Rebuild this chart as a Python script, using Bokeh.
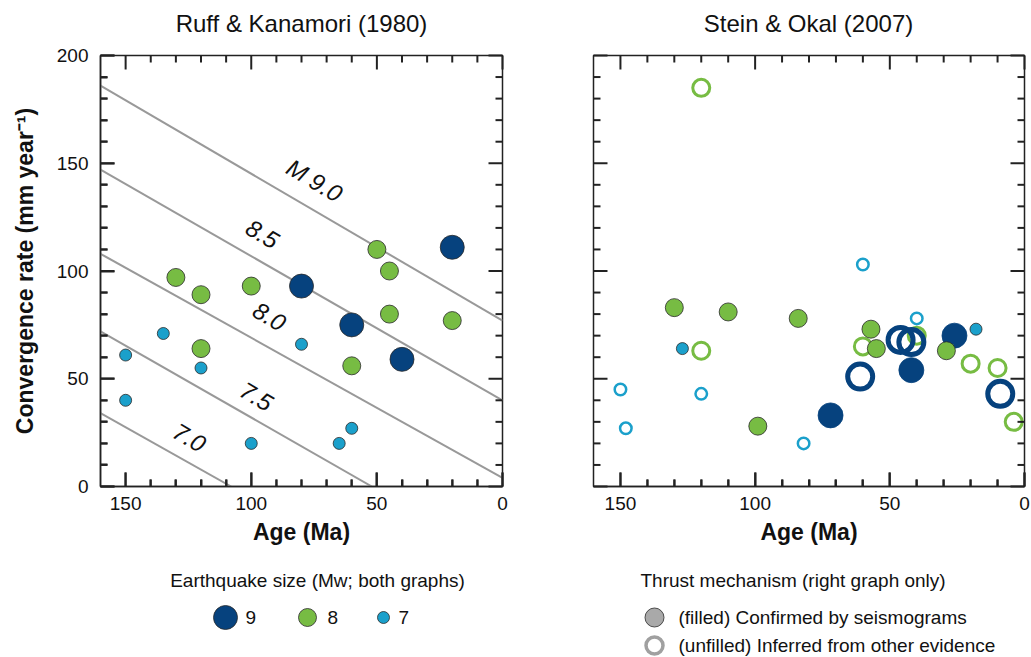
from bokeh.plotting import figure
from bokeh.models import Range1d, FixedTicker
from bokeh.layouts import column, row
from bokeh.embed import file_html
from bokeh.resources import INLINE
from bokeh.core.properties import value

FONT = "Liberation Sans"
C9 = "#06427E"
C8 = "#77BC43"
C7 = "#1BA0CB"
EDGE = "#2a2a2a"
TICK = "#222222"

# ---------------- data ----------------
titles = ["Ruff & Kanamori (1980)", "Stein & Okal (2007)"]
x_major = [0, 50, 100, 150]
x_minor = [10, 20, 30, 40, 60, 70, 80, 90, 110, 120, 130, 140]
y_major = [0, 50, 100, 150, 200]
y_minor = [10, 20, 30, 40, 60, 70, 80, 90, 110, 120, 130, 140, 160, 170, 180, 190]

# Ruff & Kanamori (1980)
rk_age_9 = [20, 80, 60, 40]
rk_rate_9 = [111, 93, 75, 59]
rk_age_8 = [50, 45, 130, 120, 100, 45, 20, 120, 60]
rk_rate_8 = [110, 100, 97, 89, 93, 80, 77, 64, 56]
rk_age_7 = [135, 150, 120, 80, 150, 100, 65, 60]
rk_rate_7 = [71, 61, 55, 66, 40, 20, 20, 27]

# magnitude lines (age, rate endpoints)
mag_labels = ["M 9.0", "8.5", "8.0", "7.5", "7.0"]
mag_age0 = [160, 160, 160, 160, 160]
mag_rate0 = [186, 147, 108, 72, 34]
mag_age1 = [0, 0, 0, 52, 108]
mag_rate1 = [77, 40, 4, 0, 0]
mag_label_age = [74.8, 95.5, 92.8, 97.9, 124.6]
mag_label_rate = [142.0, 117.2, 78.9, 41.8, 22.7]

# Stein & Okal (2007)
so_age_9_filled = [72, 42, 26]
so_rate_9_filled = [33, 54, 70]
so_age_9_open = [61, 46, 42, 9]
so_rate_9_open = [51, 68, 67, 43]
so_age_8_filled = [130, 110, 84, 99, 57, 55, 29]
so_rate_8_filled = [83, 81, 78, 28, 73, 64, 63]
so_age_8_open = [120, 120, 60, 40, 20, 10, 4]
so_rate_8_open = [185, 63, 65, 70, 57, 55, 30]
so_age_7_filled = [127, 18]
so_rate_7_filled = [64, 73]
so_age_7_open = [60, 150, 120, 148, 82, 40]
so_rate_7_open = [103, 45, 43, 27, 20, 78]

size_labels = ["9", "8", "7"]
mech_labels = ["(filled) Confirmed by seismograms", "(unfilled) Inferred from other evidence"]

FRAME_H = 431
MAJ_LEN = 14  # px
MIN_LEN = 7   # px


def make_panel(left_border, frame_w, right_border, show_y):
    p = figure(x_range=Range1d(160, 0), y_range=Range1d(0, 200),
               frame_width=frame_w, frame_height=FRAME_H,
               min_border_left=left_border, min_border_right=right_border,
               min_border_top=15, min_border_bottom=69,
               y_axis_location="left" if show_y else None,
               output_backend="svg", toolbar_location=None)
    p.grid.visible = False
    p.outline_line_color = TICK
    p.outline_line_width = 1.5

    def style(ax, ticker):
        ax.ticker = ticker
        ax.axis_line_color = TICK
        ax.axis_line_width = 1.5
        ax.major_tick_in = MAJ_LEN
        ax.major_tick_out = 0
        ax.minor_tick_in = MIN_LEN
        ax.minor_tick_out = 0
        ax.major_tick_line_color = TICK
        ax.minor_tick_line_color = TICK
        ax.major_tick_line_width = 2
        ax.minor_tick_line_width = 2
        ax.major_label_text_font = FONT
        ax.major_label_text_font_size = "19px"
        ax.major_label_text_color = "#111111"
        ax.axis_label_text_font = FONT
        ax.axis_label_text_font_size = "23px"
        ax.axis_label_text_font_style = "bold"
        ax.axis_label_text_color = "#111111"

    style(p.xaxis[0], FixedTicker(ticks=x_major, minor_ticks=x_minor))
    p.xaxis[0].axis_label = "Age (Ma)"
    p.xaxis[0].major_label_standoff = 10
    p.xaxis[0].axis_label_standoff = 6
    if show_y:
        style(p.yaxis[0], FixedTicker(ticks=y_major, minor_ticks=y_minor))
        p.yaxis[0].axis_label = "Convergence rate (mm year\u207b\u00b9)"
        p.yaxis[0].major_label_standoff = 12
        p.yaxis[0].axis_label_standoff = 16

    # inward ticks on the four frame sides as short segments (px -> data units),
    # painted on the overlay level so nothing can cover them
    ux = 160.0 / frame_w
    uy = 200.0 / FRAME_H
    for xs, L in ((x_major, MAJ_LEN), (x_minor, MIN_LEN)):
        n = len(xs)
        p.segment(x0=list(xs), y0=[0] * n, x1=list(xs), y1=[L * uy] * n,
                  line_color=TICK, line_width=2, level="overlay")
        p.segment(x0=list(xs), y0=[200] * n, x1=list(xs), y1=[200 - L * uy] * n,
                  line_color=TICK, line_width=2, level="overlay")
    for ys, L in ((y_major, MAJ_LEN), (y_minor, MIN_LEN)):
        n = len(ys)
        p.segment(x0=[160] * n, y0=list(ys), x1=[160 - L * ux] * n, y1=list(ys),
                  line_color=TICK, line_width=2, level="overlay")
        p.segment(x0=[0] * n, y0=list(ys), x1=[L * ux] * n, y1=list(ys),
                  line_color=TICK, line_width=2, level="overlay")
    return p


# ---------------- header with the two titles ----------------
head = figure(width=1031, height=40, x_range=Range1d(0, 1031), y_range=Range1d(40, 0),
              x_axis_type=None, y_axis_type=None, min_border=0,
              output_backend="svg", toolbar_location=None)
head.grid.visible = False
head.outline_line_color = None
head.text(x=[301, 808], y=[23, 23], text=titles,
          text_font=value(FONT), text_font_size="24px", text_align="center",
          text_baseline="middle", text_color="#111111")

# ---------------- left panel ----------------
p1 = make_panel(100, 402, 38, True)
p1.segment(x0=mag_age0, y0=mag_rate0, x1=mag_age1, y1=mag_rate1,
           line_color="#999999", line_width=2)
p1.text(x=mag_label_age, y=mag_label_rate, text=mag_labels, angle=-30.5, angle_units="deg",
        text_font=value(FONT), text_font_size="24px", text_font_style="italic",
        text_align="center", text_baseline="middle", text_color="#111111")
p1.scatter(rk_age_9, rk_rate_9, size=24, fill_color=C9, line_color=EDGE, line_width=0.8)
p1.scatter(rk_age_8, rk_rate_8, size=18, fill_color=C8, line_color=EDGE, line_width=0.8)
p1.scatter(rk_age_7, rk_rate_7, size=12, fill_color=C7, line_color=EDGE, line_width=0.8)

# ---------------- right panel ----------------
p2 = make_panel(53, 431, 7, False)
p2.scatter(so_age_8_open, so_rate_8_open, size=17, fill_color=None, line_color=C8, line_width=3)
p2.scatter(so_age_7_open, so_rate_7_open, size=11.5, fill_color=None, line_color=C7, line_width=2.5)
p2.scatter(so_age_9_open, so_rate_9_open, size=25, fill_color=None, line_color=C9, line_width=5)
p2.scatter(so_age_9_filled, so_rate_9_filled, size=25, fill_color=C9, line_color=C9, line_width=0.8)
p2.scatter(so_age_8_filled, so_rate_8_filled, size=18, fill_color=C8, line_color=EDGE, line_width=0.8)
p2.scatter(so_age_7_filled, so_rate_7_filled, size=12, fill_color=C7, line_color=EDGE, line_width=0.8)

# ---------------- legend strip ----------------
leg = figure(width=1031, height=102, x_range=Range1d(0, 1031), y_range=Range1d(102, 0),
             x_axis_type=None, y_axis_type=None, min_border=0,
             output_backend="svg", toolbar_location=None)
leg.grid.visible = False
leg.outline_line_color = None

leg.text(x=[317], y=[25], text=["Earthquake size (Mw; both graphs)"],
         text_font=value(FONT), text_font_size="19px", text_align="center",
         text_baseline="middle", text_color="#111111")
leg.scatter(x=[225, 307, 383], y=[62, 62, 62], size=[24, 18, 12],
            fill_color=[C9, C8, C7], line_color=EDGE, line_width=0.8)
leg.text(x=[245, 327, 398], y=[62, 62, 62], text=size_labels,
         text_font=value(FONT), text_font_size="19px", text_align="left",
         text_baseline="middle", text_color="#111111")

leg.text(x=[640], y=[25], text=["Thrust mechanism (right graph only)"],
         text_font=value(FONT), text_font_size="19px", text_align="left",
         text_baseline="middle", text_color="#111111")
leg.scatter(x=[654], y=[62], size=19, fill_color="#A9A9A9", line_color=EDGE, line_width=0.8)
leg.scatter(x=[654], y=[90], size=17, fill_color=None, line_color="#A0A0A0", line_width=3.5)
leg.text(x=[678, 678], y=[62, 90], text=mech_labels,
         text_font=value(FONT), text_font_size="19px", text_align="left",
         text_baseline="middle", text_color="#111111")

layout = column(head, row(p1, p2), leg)
open("out.html", "w").write(file_html(layout, INLINE))
